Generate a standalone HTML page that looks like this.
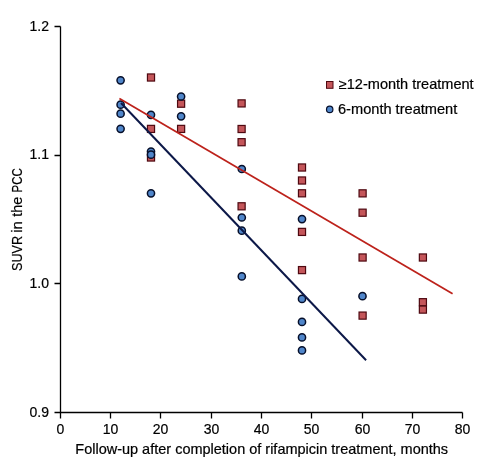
<!DOCTYPE html>
<html><head><meta charset="utf-8"><title>SUVR chart</title>
<style>
html,body{margin:0;padding:0;background:#fff;width:499px;height:474px;overflow:hidden;}
svg{display:block;font-family:"Liberation Sans", sans-serif;will-change:transform;}
</style></head><body>
<svg width="499" height="474" viewBox="0 0 499 474">
<rect width="499" height="474" fill="#ffffff"/>
<path d="M60.5 26.5V412.5H462.5" fill="none" stroke="#000" stroke-width="1.3"/>
<path d="M54.5 412.5H60.5M54.5 283.5H60.5M54.5 155.5H60.5M54.5 26.5H60.5M60.5 412.5V418.5M110.5 412.5V418.5M160.5 412.5V418.5M211.5 412.5V418.5M261.5 412.5V418.5M311.5 412.5V418.5M362.5 412.5V418.5M412.5 412.5V418.5M462.5 412.5V418.5" fill="none" stroke="#000" stroke-width="1.3"/>
<rect x="147.45" y="73.95" width="7.1" height="7.1" fill="#c4565a" stroke="#4e0810" stroke-width="1.2"/>
<rect x="147.45" y="125.35" width="7.1" height="7.1" fill="#c4565a" stroke="#4e0810" stroke-width="1.2"/>
<rect x="147.45" y="153.95" width="7.1" height="7.1" fill="#c4565a" stroke="#4e0810" stroke-width="1.2"/>
<rect x="177.55" y="100.15" width="7.1" height="7.1" fill="#c4565a" stroke="#4e0810" stroke-width="1.2"/>
<rect x="177.55" y="125.35" width="7.1" height="7.1" fill="#c4565a" stroke="#4e0810" stroke-width="1.2"/>
<rect x="238.05" y="99.85" width="7.1" height="7.1" fill="#c4565a" stroke="#4e0810" stroke-width="1.2"/>
<rect x="238.05" y="125.45" width="7.1" height="7.1" fill="#c4565a" stroke="#4e0810" stroke-width="1.2"/>
<rect x="238.05" y="138.65" width="7.1" height="7.1" fill="#c4565a" stroke="#4e0810" stroke-width="1.2"/>
<rect x="238.05" y="202.75" width="7.1" height="7.1" fill="#c4565a" stroke="#4e0810" stroke-width="1.2"/>
<rect x="298.45" y="163.95" width="7.1" height="7.1" fill="#c4565a" stroke="#4e0810" stroke-width="1.2"/>
<rect x="298.45" y="176.95" width="7.1" height="7.1" fill="#c4565a" stroke="#4e0810" stroke-width="1.2"/>
<rect x="298.45" y="189.75" width="7.1" height="7.1" fill="#c4565a" stroke="#4e0810" stroke-width="1.2"/>
<rect x="298.45" y="228.35" width="7.1" height="7.1" fill="#c4565a" stroke="#4e0810" stroke-width="1.2"/>
<rect x="298.45" y="266.55" width="7.1" height="7.1" fill="#c4565a" stroke="#4e0810" stroke-width="1.2"/>
<rect x="359.05" y="189.80" width="7.1" height="7.1" fill="#c4565a" stroke="#4e0810" stroke-width="1.2"/>
<rect x="359.05" y="209.15" width="7.1" height="7.1" fill="#c4565a" stroke="#4e0810" stroke-width="1.2"/>
<rect x="359.05" y="253.95" width="7.1" height="7.1" fill="#c4565a" stroke="#4e0810" stroke-width="1.2"/>
<rect x="359.05" y="312.05" width="7.1" height="7.1" fill="#c4565a" stroke="#4e0810" stroke-width="1.2"/>
<rect x="419.35" y="253.95" width="7.1" height="7.1" fill="#c4565a" stroke="#4e0810" stroke-width="1.2"/>
<rect x="419.35" y="298.65" width="7.1" height="7.1" fill="#c4565a" stroke="#4e0810" stroke-width="1.2"/>
<rect x="419.35" y="306.05" width="7.1" height="7.1" fill="#c4565a" stroke="#4e0810" stroke-width="1.2"/>
<circle cx="120.6" cy="80.3" r="3.6" fill="#5086ca" stroke="#060f2a" stroke-width="1.5"/>
<circle cx="120.6" cy="104.65" r="3.6" fill="#5086ca" stroke="#060f2a" stroke-width="1.5"/>
<circle cx="120.6" cy="113.7" r="3.6" fill="#5086ca" stroke="#060f2a" stroke-width="1.5"/>
<circle cx="120.6" cy="128.8" r="3.6" fill="#5086ca" stroke="#060f2a" stroke-width="1.5"/>
<circle cx="151.0" cy="114.8" r="3.6" fill="#5086ca" stroke="#060f2a" stroke-width="1.5"/>
<circle cx="151.0" cy="151.6" r="3.6" fill="#5086ca" stroke="#060f2a" stroke-width="1.5"/>
<circle cx="151.0" cy="154.7" r="3.6" fill="#5086ca" stroke="#060f2a" stroke-width="1.5"/>
<circle cx="151.0" cy="193.3" r="3.6" fill="#5086ca" stroke="#060f2a" stroke-width="1.5"/>
<circle cx="181.1" cy="96.5" r="3.6" fill="#5086ca" stroke="#060f2a" stroke-width="1.5"/>
<circle cx="181.1" cy="116.3" r="3.6" fill="#5086ca" stroke="#060f2a" stroke-width="1.5"/>
<circle cx="241.8" cy="169.0" r="3.6" fill="#5086ca" stroke="#060f2a" stroke-width="1.5"/>
<circle cx="241.8" cy="217.5" r="3.6" fill="#5086ca" stroke="#060f2a" stroke-width="1.5"/>
<circle cx="241.8" cy="230.7" r="3.6" fill="#5086ca" stroke="#060f2a" stroke-width="1.5"/>
<circle cx="241.8" cy="276.4" r="3.6" fill="#5086ca" stroke="#060f2a" stroke-width="1.5"/>
<circle cx="302.0" cy="219.1" r="3.6" fill="#5086ca" stroke="#060f2a" stroke-width="1.5"/>
<circle cx="302.0" cy="298.9" r="3.6" fill="#5086ca" stroke="#060f2a" stroke-width="1.5"/>
<circle cx="302.0" cy="321.9" r="3.6" fill="#5086ca" stroke="#060f2a" stroke-width="1.5"/>
<circle cx="302.0" cy="337.4" r="3.6" fill="#5086ca" stroke="#060f2a" stroke-width="1.5"/>
<circle cx="302.0" cy="350.4" r="3.6" fill="#5086ca" stroke="#060f2a" stroke-width="1.5"/>
<circle cx="362.5" cy="296.2" r="3.6" fill="#5086ca" stroke="#060f2a" stroke-width="1.5"/>
<line x1="119.4" y1="98.5" x2="452.6" y2="293.8" stroke="#bd221b" stroke-width="1.75"/>
<line x1="121.0" y1="103.05" x2="366.1" y2="360.25" stroke="#0c1848" stroke-width="2.0"/>
<text x="49.0" y="416.7" text-anchor="end" font-family='"Liberation Sans", sans-serif' font-size="14" fill="#000000" stroke="#000000" stroke-width="0.2">0.9</text>
<text x="49.0" y="287.6" text-anchor="end" font-family='"Liberation Sans", sans-serif' font-size="14" fill="#000000" stroke="#000000" stroke-width="0.2">1.0</text>
<text x="49.0" y="158.8" text-anchor="end" font-family='"Liberation Sans", sans-serif' font-size="14" fill="#000000" stroke="#000000" stroke-width="0.2">1.1</text>
<text x="49.0" y="30.6" text-anchor="end" font-family='"Liberation Sans", sans-serif' font-size="14" fill="#000000" stroke="#000000" stroke-width="0.2">1.2</text>
<text x="60.5" y="434" text-anchor="middle" font-family='"Liberation Sans", sans-serif' font-size="14" fill="#000000" stroke="#000000" stroke-width="0.2">0</text>
<text x="110.5" y="434" text-anchor="middle" font-family='"Liberation Sans", sans-serif' font-size="14" fill="#000000" stroke="#000000" stroke-width="0.2">10</text>
<text x="160.5" y="434" text-anchor="middle" font-family='"Liberation Sans", sans-serif' font-size="14" fill="#000000" stroke="#000000" stroke-width="0.2">20</text>
<text x="211.5" y="434" text-anchor="middle" font-family='"Liberation Sans", sans-serif' font-size="14" fill="#000000" stroke="#000000" stroke-width="0.2">30</text>
<text x="261.5" y="434" text-anchor="middle" font-family='"Liberation Sans", sans-serif' font-size="14" fill="#000000" stroke="#000000" stroke-width="0.2">40</text>
<text x="311.5" y="434" text-anchor="middle" font-family='"Liberation Sans", sans-serif' font-size="14" fill="#000000" stroke="#000000" stroke-width="0.2">50</text>
<text x="362.5" y="434" text-anchor="middle" font-family='"Liberation Sans", sans-serif' font-size="14" fill="#000000" stroke="#000000" stroke-width="0.2">60</text>
<text x="412.5" y="434" text-anchor="middle" font-family='"Liberation Sans", sans-serif' font-size="14" fill="#000000" stroke="#000000" stroke-width="0.2">70</text>
<text x="462.5" y="434" text-anchor="middle" font-family='"Liberation Sans", sans-serif' font-size="14" fill="#000000" stroke="#000000" stroke-width="0.2">80</text>
<text x="75.3" y="453.8" textLength="372.8" lengthAdjust="spacingAndGlyphs" font-family='"Liberation Sans", sans-serif' font-size="14.2" fill="#000000" stroke="#000000" stroke-width="0.2">Follow-up after completion of rifampicin treatment, months</text>
<g transform="translate(21.8 271.6) rotate(-90)">
<text x="0.62" y="0" textLength="34.98" lengthAdjust="spacingAndGlyphs" font-family='"Liberation Sans", sans-serif' font-size="15.0" fill="#000000" stroke="#000000" stroke-width="0.2">SUVR</text>
<text x="38.8" y="0" textLength="11.67" lengthAdjust="spacingAndGlyphs" font-family='"Liberation Sans", sans-serif' font-size="15.0" fill="#000000" stroke="#000000" stroke-width="0.2">in</text>
<text x="54.88" y="0" textLength="20.05" lengthAdjust="spacingAndGlyphs" font-family='"Liberation Sans", sans-serif' font-size="15.0" fill="#000000" stroke="#000000" stroke-width="0.2">the</text>
<text x="79.16" y="0" textLength="24.18" lengthAdjust="spacingAndGlyphs" font-family='"Liberation Sans", sans-serif' font-size="15.0" fill="#000000" stroke="#000000" stroke-width="0.2">PCC</text>
</g>
<rect x="326.5" y="81.5" width="6.5" height="6.8" fill="#c4565a" stroke="#4e0810" stroke-width="1"/>
<circle cx="329.7" cy="109.4" r="3.2" fill="#5086ca" stroke="#060f2a" stroke-width="1.2"/>
<text x="338.8" y="88.9" textLength="134.8" lengthAdjust="spacingAndGlyphs" font-family='"Liberation Sans", sans-serif' font-size="13.9" fill="#000000" stroke="#000000" stroke-width="0.2">≥12-month treatment</text>
<text x="338.0" y="113.8" textLength="119.3" lengthAdjust="spacingAndGlyphs" font-family='"Liberation Sans", sans-serif' font-size="13.9" fill="#000000" stroke="#000000" stroke-width="0.2">6-month treatment</text>
</svg>
</body></html>
